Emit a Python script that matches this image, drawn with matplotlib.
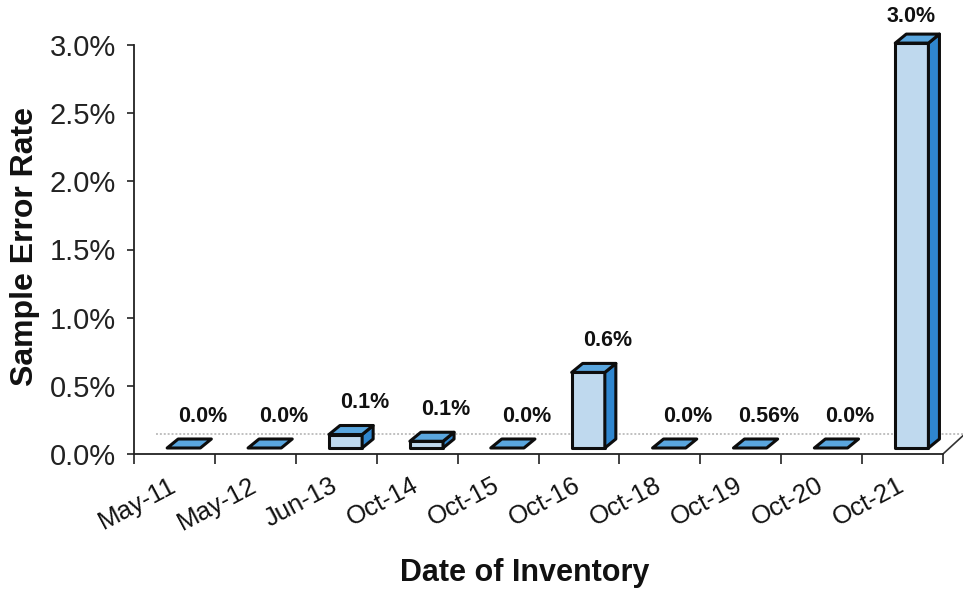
import matplotlib
matplotlib.use('Agg')
import matplotlib.pyplot as plt
import matplotlib.transforms as mtransforms
from matplotlib.patches import Polygon
from matplotlib.ticker import FixedLocator

# sample error rate per inventory date (percent)
dates = ['May-11', 'May-12', 'Jun-13', 'Oct-14', 'Oct-15',
         'Oct-16', 'Oct-18', 'Oct-19', 'Oct-20', 'Oct-21']
error_rate = [0.0, 0.0, 0.1, 0.05, 0.0, 0.56, 0.0, 0.0, 0.0, 3.0]
bar_labels = ['0.0%', '0.0%', '0.1%', '0.1%', '0.0%',
              '0.6%', '0.0%', '0.56%', '0.0%', '3.0%']
y_ticks = [0.0, 0.5, 1.0, 1.5, 2.0, 2.5, 3.0]

plt.rcParams['font.family'] = ['Liberation Sans', 'DejaVu Sans']

FRONT = '#bfd9ee'
SIDE = '#2f86cf'
TOP = '#5aa6de'
EDGE = '#0d0d0d'

fig = plt.figure(figsize=(9.63, 5.93), dpi=100)
ax = fig.add_axes([134 / 963, 139 / 593, 809 / 963, 409 / 593])
ax.set_xlim(-0.5, len(dates) - 0.5)
ax.set_ylim(0, 3.0)

# pseudo-3d box geometry (category units / percent units)
x0, x1 = -0.09, 0.32      # front face relative to category centre
dx, dy = 0.136, 0.066     # depth offset
base = 0.044              # bars sit a little back on the floor
persp = 0.99              # bars stand slightly behind the value axis

# floor: back edge dotted line and right edge
fdx, fdy = 0.27, 0.147
ax.plot([-0.5 + fdx, len(dates) - 0.5 + fdx], [fdy, fdy], color='#c0c0c0',
        lw=1.4, ls=(0, (1, 1)), zorder=1, clip_on=False)
ax.plot([len(dates) - 0.5, len(dates) - 0.5 + fdx], [0, fdy], color='#333333',
        lw=1.2, zorder=1, clip_on=False)

face_kw = dict(closed=True, ec=EDGE, lw=2.2, joinstyle='round', clip_on=False)
for i, v in enumerate(error_rate):
    l, r = i + x0, i + x1
    b, t = base, base + v * persp
    front = Polygon([(l, b), (r, b), (r, t), (l, t)], fc=FRONT, zorder=3, **face_kw)
    side = Polygon([(r, b), (r + dx, b + dy), (r + dx, t + dy), (r, t)],
                   fc=SIDE, zorder=3, **face_kw)
    top = Polygon([(l, t), (r, t), (r + dx, t + dy), (l + dx, t + dy)],
                  fc=TOP, zorder=4, **face_kw)
    if v > 0:
        ax.add_patch(front)
        ax.add_patch(side)
    ax.add_patch(top)

    last = i == len(dates) - 1
    lx = i + 0.1 if last else i + 0.35
    ax.annotate(bar_labels[i], (lx, t + dy), xytext=(0, 5 if last else 9),
                textcoords='offset points', ha='center', va='bottom',
                fontsize=15.5, fontweight='bold', color='#111111',
                annotation_clip=False)

# axes styling
for s in ['top', 'right']:
    ax.spines[s].set_visible(False)
for s in ['left', 'bottom']:
    ax.spines[s].set_linewidth(1.3)
    ax.spines[s].set_color('#222222')

ax.set_yticks(y_ticks)
ax.set_yticklabels(['{:.1f}%'.format(t) for t in y_ticks])
ax.tick_params(axis='y', length=5, width=1.2, pad=8, labelsize=21, colors='#222222')

ax.set_xticks(range(len(dates)))
ax.set_xticklabels(dates, rotation=28, ha='right', rotation_mode='anchor')
ax.tick_params(axis='x', which='major', length=0, pad=14, labelsize=18.5, colors='#111111')
shift = mtransforms.ScaledTranslation(-6 / 100, 0, fig.dpi_scale_trans)
for lab in ax.get_xticklabels():
    lab.set_transform(lab.get_transform() + shift)
ax.xaxis.set_minor_locator(FixedLocator([k - 0.5 for k in range(len(dates) + 1)]))
ax.tick_params(axis='x', which='minor', length=7, width=1.2, color='#222222')

fig.text(25 / 963, 0.585, 'Sample Error Rate', rotation=90, ha='center', va='center',
         fontsize=23, fontweight='bold', color='#111111')
fig.text(525 / 963, 0.034, 'Date of Inventory', ha='center', va='center',
         fontsize=22, fontweight='bold', color='#111111')

fig.savefig('out.png', dpi=100, facecolor='white')
